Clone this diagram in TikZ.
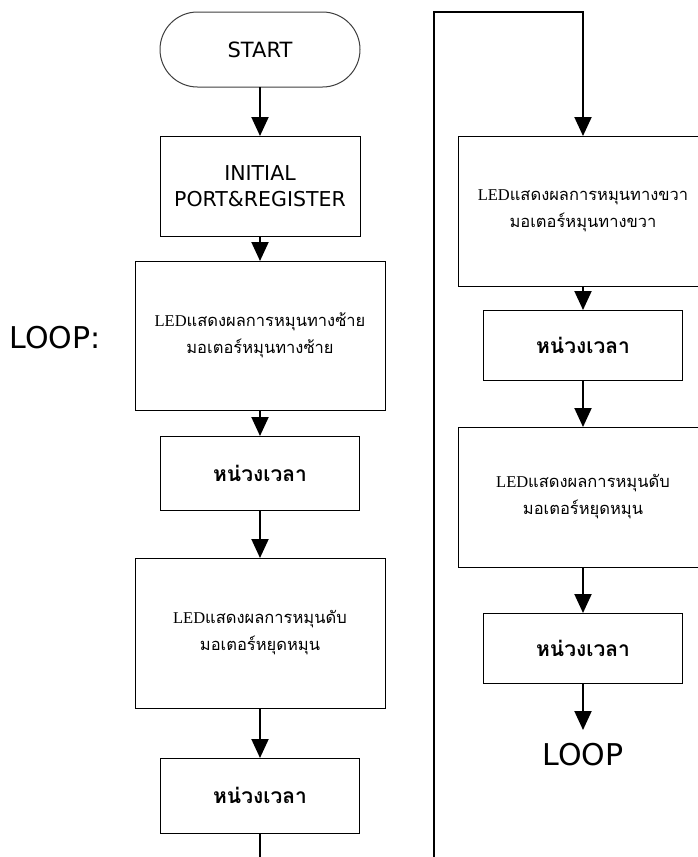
\documentclass[tikz,border=0pt]{standalone}
\usepackage{fontspec}
\setmainfont{DejaVu Sans}
\newfontfamily\thaisans[Script=Thai]{Loma}
\newfontfamily\latinserif{Liberation Serif}
\usetikzlibrary{arrows.meta}

\tikzset{
  box/.style={draw=black, line width=1pt, inner sep=0pt, outer sep=0pt, align=center},
  ledbox/.style={box, minimum width=250pt, font=\thaisans\fontsize{16.5}{27}\selectfont},
  waitbox/.style={box, minimum width=199pt, font=\thaisans\bfseries\fontsize{21}{24}\selectfont},
  flow/.style={line width=2pt, -{Triangle[width=17pt,length=19pt]}},
  bigtext/.style={inner sep=0pt, outer sep=0pt, font=\fontsize{30}{32}\selectfont},
}

\begin{document}
\begin{tikzpicture}[x=1pt, y=-1pt]
  \useasboundingbox (0,0) rectangle (698,857);
  \fill[white] (0,0) rectangle (698,857);
  \clip (0,0) rectangle (698,857);

  % main column
  \node[box, draw=black!75, minimum width=200pt, minimum height=75pt, rounded corners=37.5pt,
        font=\fontsize{21}{24}\selectfont] (start) at (260,49.5) {START};
  \node[box, minimum width=200pt, minimum height=100pt,
        font=\fontsize{20.5}{26}\selectfont] (init) at (260,186) {INITIAL\\PORT\&REGISTER};
  \node[ledbox, minimum height=149pt] (led1) at (260,335.5)
       {{\latinserif LED}แสดงผลการหมุนทางซ้าย\\มอเตอร์หมุนทางซ้าย};
  \node[waitbox, minimum height=74pt] (wait1) at (260,473) {หน่วงเวลา};
  \node[ledbox, minimum height=150pt] (led2) at (260,633)
       {{\latinserif LED}แสดงผลการหมุนดับ\\มอเตอร์หยุดหมุน};
  \node[waitbox, minimum height=75pt] (wait2) at (260,795.5) {หน่วงเวลา};
  \node[bigtext] (looplabel) at (55,338) {LOOP:};

  % second column
  \node[ledbox, minimum height=150pt] (rled1) at (583,211)
       {{\latinserif LED}แสดงผลการหมุนทางขวา\\มอเตอร์หมุนทางขวา};
  \node[waitbox, minimum height=70pt] (rwait1) at (583,345) {หน่วงเวลา};
  \node[ledbox, minimum height=140pt] (rled2) at (583,497)
       {{\latinserif LED}แสดงผลการหมุนดับ\\มอเตอร์หยุดหมุน};
  \node[waitbox, minimum height=70pt] (rwait2) at (583,648) {หน่วงเวลา};
  \node[bigtext, anchor=north, inner ysep=13pt] (loopend) at (583,730) {LOOP};

  % connectors
  \draw[flow] (start) -- (init);
  \draw[flow] (init) -- (led1);
  \draw[flow] (led1) -- (wait1);
  \draw[flow] (wait1) -- (led2);
  \draw[flow] (led2) -- (wait2);

  \coordinate (wrapbottom) at (434,885);
  \coordinate (wraptop) at (434,12);
  \draw[flow] (wait2.south) |- (wrapbottom) -- (wraptop) -| (rled1.north);

  \draw[flow] (rled1) -- (rwait1);
  \draw[flow] (rwait1) -- (rled2);
  \draw[flow] (rled2) -- (rwait2);
  \draw[flow] (rwait2) -- (loopend);
\end{tikzpicture}
\end{document}
